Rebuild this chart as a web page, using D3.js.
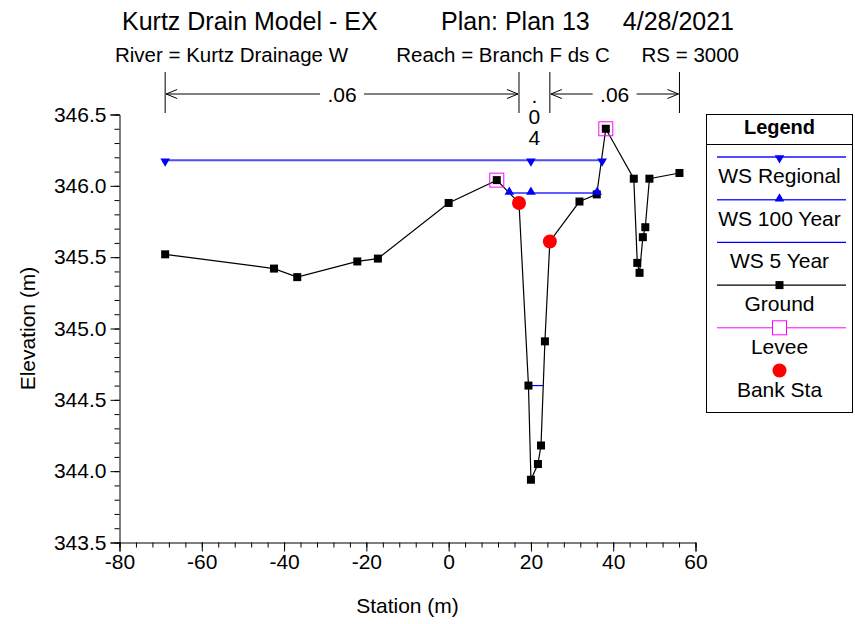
<!DOCTYPE html>
<html>
<head>
<meta charset="utf-8">
<script src="https://cdn.jsdelivr.net/npm/d3@7"></script>
<style>
  html, body { margin: 0; padding: 0; background: #fff; }
  svg { display: block; font-family: "Liberation Sans", Arial, sans-serif; }
</style>
</head>
<body>
<svg id="chart" width="855" height="624"></svg>
<script>
// ---------------- data ----------------
const groundSta  = [-68.9, -42.45, -36.8, -22.2, -17.2, 0.0, 11.7, 17.1, 19.4, 20.0, 21.7, 22.45, 23.4, 24.6, 31.8, 36.0, 38.2, 45.0, 45.85, 46.4, 47.2, 47.8, 48.8, 56.1];
const groundElev = [345.52, 345.42, 345.36, 345.47, 345.49, 345.88, 346.04, 345.88, 344.60, 343.94, 344.05, 344.18, 344.91, 345.61, 345.89, 345.94, 346.40, 346.05, 345.46, 345.39, 345.64, 345.71, 346.05, 346.09];

const leveeSta  = [11.7, 38.2];
const leveeElev = [346.04, 346.40];

const bankSta  = [17.1, 24.6];
const bankElev = [345.88, 345.61];

const wsRegionalSta   = [-68.9, 37.3];
const wsRegionalElev  = 346.18;
const wsRegionalMarks = [-68.9, 20.0, 37.3];

const ws100Sta   = [14.75, 36.1];
const ws100Elev  = 345.95;
const ws100Marks = [14.75, 20.0, 36.1];

const ws5Sta  = [19.4, 23.0];
const ws5Elev = 344.60;

const nSta    = [-68.9, 17.1, 24.6, 56.1];
const nValues = [".06", ".04", ".06"];

const yMajorTicks = [343.5, 344.0, 344.5, 345.0, 345.5, 346.0, 346.5];
const xMajorTicks = [-80, -60, -40, -20, 0, 20, 40, 60];

const legendItems = ["WS Regional", "WS 100 Year", "WS 5 Year", "Ground", "Levee", "Bank Sta"];

// ---------------- layout ----------------
const svg = d3.select("#chart");
const FONT = 21;
const x = d3.scaleLinear().domain([-80, 60]).range([119.5, 695.5]);
const y = d3.scaleLinear().domain([343.5, 346.5]).range([542.5, 114.5]);

// titles
const title = svg.append("g").attr("font-size", 25).attr("fill", "#000");
title.append("text").attr("x", 122).attr("y", 30).text("Kurtz Drain Model - EX");
title.append("text").attr("x", 441).attr("y", 30).text("Plan: Plan 13");
title.append("text").attr("x", 734).attr("y", 30).attr("text-anchor", "end").text("4/28/2021");

const sub = svg.append("g").attr("font-size", 20.5).attr("fill", "#000");
sub.append("text").attr("x", 115).attr("y", 62).text("River = Kurtz Drainage W");
sub.append("text").attr("x", 503).attr("y", 62).attr("text-anchor", "middle").text("Reach = Branch F ds C");
sub.append("text").attr("x", 739).attr("y", 62).attr("text-anchor", "end").text("RS = 3000");

// ---------------- axes ----------------
const yMinor = d3.range(0, 31).map(i => 343.5 + i * 0.1);
const xMinor = d3.range(0, 36).map(i => -80 + i * 4);

const gy = svg.append("g").attr("transform", `translate(${x.range()[0]},0)`);
gy.call(d3.axisLeft(y).tickValues(yMinor).tickSize(5).tickFormat(""));
gy.call(g => g.select(".domain").remove());
const gyM = svg.append("g").attr("transform", `translate(${x.range()[0]},0)`);
gyM.call(d3.axisLeft(y).tickValues(yMajorTicks).tickSize(9).tickPadding(4).tickFormat(d3.format(".1f")));
gyM.selectAll("text").attr("font-size", FONT).attr("font-family", "Liberation Sans, Arial, sans-serif").attr("fill", "#000");

const gx = svg.append("g").attr("transform", `translate(0,${y.range()[0]})`);
gx.call(d3.axisBottom(x).tickValues(xMinor).tickSize(5).tickFormat(""));
gx.call(g => g.select(".domain").remove());
const gxM = svg.append("g").attr("transform", `translate(0,${y.range()[0]})`);
gxM.call(d3.axisBottom(x).tickValues(xMajorTicks).tickSize(9).tickPadding(3).tickFormat(d => String(d)));
gxM.selectAll("text").attr("font-size", FONT).attr("font-family", "Liberation Sans, Arial, sans-serif").attr("fill", "#000");
svg.selectAll(".tick line").attr("stroke", "#000");
svg.selectAll(".domain").attr("stroke", "#000");

svg.append("text").attr("x", 407.5).attr("y", 613).attr("text-anchor", "middle")
  .attr("font-size", FONT).text("Station (m)");
svg.append("text").attr("transform", "translate(35,328.5) rotate(-90)").attr("text-anchor", "middle")
  .attr("font-size", FONT).text("Elevation (m)");

// ---------------- Manning's n annotation ----------------
const ann = svg.append("g").attr("stroke", "#000").attr("stroke-width", 1);
nSta.forEach(s => {
  ann.append("line").attr("x1", x(s)).attr("x2", x(s)).attr("y1", 72).attr("y2", 113);
});
function arrowHead(g, px, py, dir) {
  g.append("path").attr("fill", "none")
    .attr("d", `M${px - dir * 11},${py - 4.5}L${px},${py}L${px - dir * 11},${py + 4.5}`);
}
const arrowY = 94;
nValues.forEach((v, i) => {
  const x0 = x(nSta[i]), x1 = x(nSta[i + 1]);
  const w = x1 - x0;
  const cx = (x0 + x1) / 2;
  if (w > 60) {
    const tw = 44;
    ann.append("line").attr("x1", x0 + 1).attr("x2", cx - tw / 2).attr("y1", arrowY).attr("y2", arrowY);
    ann.append("line").attr("x1", cx + tw / 2).attr("x2", x1 - 1).attr("y1", arrowY).attr("y2", arrowY);
    arrowHead(ann, x0 + 1, arrowY, -1);
    arrowHead(ann, x1 - 1, arrowY, 1);
    svg.append("text").attr("x", cx).attr("y", arrowY + 7.5).attr("text-anchor", "middle")
      .attr("font-size", FONT).text(v);
  } else {
    const chars = v.split("");
    chars.forEach((c, j) => {
      svg.append("text").attr("x", cx).attr("y", 103 + j * 21).attr("text-anchor", "middle")
        .attr("font-size", FONT).text(c);
    });
  }
});

// ---------------- data marks ----------------
const plot = svg.append("g");
const line = d3.line().x(d => x(d[0])).y(d => y(d[1]));

// WS lines
plot.append("path").datum(wsRegionalSta.map(s => [s, wsRegionalElev]))
  .attr("d", line).attr("fill", "none").attr("stroke", "#4d4dff").attr("stroke-width", 2);
plot.append("path").datum(ws100Sta.map(s => [s, ws100Elev]))
  .attr("d", line).attr("fill", "none").attr("stroke", "#2a2aff").attr("stroke-width", 1.5);
plot.append("path").datum(ws5Sta.map(s => [s, ws5Elev]))
  .attr("d", line).attr("fill", "none").attr("stroke", "#0000ff").attr("stroke-width", 1.2);

// Ground
const ground = groundSta.map((s, i) => [s, groundElev[i]]);
plot.append("path").datum(ground).attr("d", line).attr("fill", "none")
  .attr("stroke", "#000").attr("stroke-width", 1.2);
plot.selectAll("rect.g").data(ground).enter().append("rect").attr("class", "g")
  .attr("x", d => x(d[0]) - 4).attr("y", d => y(d[1]) - 4)
  .attr("width", 8).attr("height", 8).attr("fill", "#000");

// Levee
plot.selectAll("rect.lv").data(leveeSta.map((s, i) => [s, leveeElev[i]])).enter().append("rect")
  .attr("class", "lv")
  .attr("x", d => x(d[0]) - 7).attr("y", d => y(d[1]) - 7)
  .attr("width", 14).attr("height", 14).attr("fill", "none").attr("stroke", "#ff00ff").attr("stroke-width", 1);

// Bank stations
plot.selectAll("circle.bk").data(bankSta.map((s, i) => [s, bankElev[i]])).enter().append("circle")
  .attr("class", "bk").attr("cx", d => x(d[0])).attr("cy", d => y(d[1])).attr("r", 7).attr("fill", "#ff0000");

// WS markers
const tri = d3.symbol().type(d3.symbolTriangle).size(40);
plot.selectAll("path.wr").data(wsRegionalMarks).enter().append("path").attr("class", "wr")
  .attr("d", tri).attr("fill", "#0000ff")
  .attr("transform", s => `translate(${x(s)},${y(wsRegionalElev) + 1}) rotate(180)`);
plot.selectAll("path.w1").data(ws100Marks).enter().append("path").attr("class", "w1")
  .attr("d", tri).attr("fill", "#0000ff")
  .attr("transform", s => `translate(${x(s)},${y(ws100Elev) - 1})`);

// ---------------- legend ----------------
const lg = svg.append("g");
const LX0 = 706, LX1 = 853, LY0 = 114, LY1 = 412;
lg.append("rect").attr("x", LX0 + 0.5).attr("y", LY0 + 0.5).attr("width", LX1 - LX0 - 1).attr("height", LY1 - LY0)
  .attr("fill", "#fff").attr("stroke", "#000").attr("stroke-width", 1);
lg.append("line").attr("x1", LX0).attr("x2", LX1).attr("y1", 144.5).attr("y2", 144.5).attr("stroke", "#000");
const lcx = (LX0 + LX1) / 2;
lg.append("text").attr("x", lcx).attr("y", 134).attr("text-anchor", "middle")
  .attr("font-size", 20).attr("font-weight", "bold").text("Legend");
const lStep = 42.7;
legendItems.forEach((name, i) => {
  const ly = 157 + i * lStep;
  const ty = ly + 26;
  const gI = lg.append("g");
  if (i === 0) {
    gI.append("line").attr("x1", 717).attr("x2", 846).attr("y1", ly).attr("y2", ly).attr("stroke", "#4d4dff").attr("stroke-width", 2);
    gI.append("path").attr("d", tri).attr("fill", "#0000ff").attr("transform", `translate(${lcx},${ly + 1}) rotate(180)`);
  } else if (i === 1) {
    gI.append("line").attr("x1", 717).attr("x2", 846).attr("y1", ly).attr("y2", ly).attr("stroke", "#2a2aff").attr("stroke-width", 1.5);
    gI.append("path").attr("d", tri).attr("fill", "#0000ff").attr("transform", `translate(${lcx},${ly - 1})`);
  } else if (i === 2) {
    gI.append("line").attr("x1", 717).attr("x2", 846).attr("y1", ly).attr("y2", ly).attr("stroke", "#0000ff").attr("stroke-width", 1.2);
  } else if (i === 3) {
    gI.append("line").attr("x1", 717).attr("x2", 846).attr("y1", ly).attr("y2", ly).attr("stroke", "#000").attr("stroke-width", 1.2);
    gI.append("rect").attr("x", lcx - 4).attr("y", ly - 4).attr("width", 8).attr("height", 8).attr("fill", "#000");
  } else if (i === 4) {
    gI.append("line").attr("x1", 717).attr("x2", 846).attr("y1", ly).attr("y2", ly).attr("stroke", "#ff00ff").attr("stroke-width", 1);
    gI.append("rect").attr("x", lcx - 7).attr("y", ly - 7).attr("width", 14).attr("height", 14).attr("fill", "#fff").attr("stroke", "#ff00ff");
  } else {
    gI.append("circle").attr("cx", lcx).attr("cy", ly).attr("r", 7).attr("fill", "#ff0000");
  }
  gI.append("text").attr("x", lcx).attr("y", ty).attr("text-anchor", "middle").attr("font-size", FONT).text(name);
});
</script>
</body>
</html>
